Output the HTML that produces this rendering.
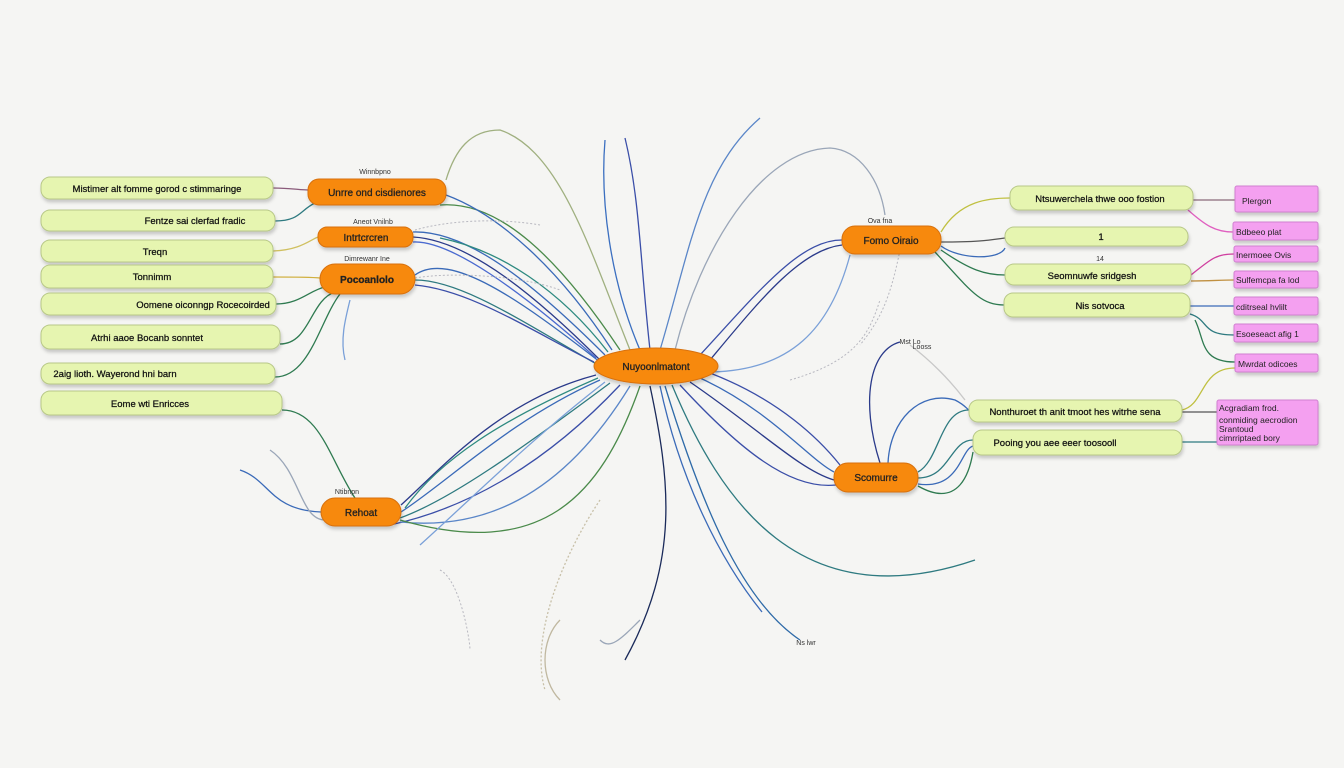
<!DOCTYPE html>
<html><head><meta charset="utf-8"><style>
html,body{margin:0;padding:0;background:#f5f5f3;}
svg{display:block}
text{font-family:"Liberation Sans",sans-serif;}
</style></head><body>
<svg width="1344" height="768" viewBox="0 0 1344 768" xmlns="http://www.w3.org/2000/svg">
<defs>
<filter id="sh" x="-10%" y="-20%" width="120%" height="160%"><feDropShadow dx="1" dy="3" stdDeviation="1.5" flood-color="#000" flood-opacity="0.18"/></filter>
</defs>
<rect width="1344" height="768" fill="#f5f5f3"/>
<g fill="none" stroke-width="1.3">
<path d="M640,350 C610,280 600,200 605,140" stroke="#3b6fc0"/>
<path d="M650,350 C640,260 640,200 625,138" stroke="#3a4ea8"/>
<path d="M660,350 C690,250 700,170 760,118" stroke="#5a86c8"/>
<path d="M675,350 C700,250 760,150 830,148 C860,150 880,180 885,215" stroke="#9aa6b8"/>
<path d="M700,355 C760,290 800,240 842,240" stroke="#3a4ea8"/>
<path d="M710,360 C760,300 800,250 842,245" stroke="#2a3a8a"/>
<path d="M712,372 C790,370 830,330 850,255" stroke="#7aa0d8"/>
<path d="M600,360 C540,300 470,240 413,237" stroke="#2a3a8a"/>
<path d="M605,355 C540,290 470,230 413,232" stroke="#3a6ab8"/>
<path d="M598,365 C520,320 460,280 415,280" stroke="#2e7a80"/>
<path d="M600,362 C520,300 450,250 415,275" stroke="#3a6ab8"/>
<path d="M596,358 C520,290 450,240 413,242" stroke="#4a6ad0"/>
<path d="M594,362 C530,330 470,290 415,285" stroke="#3a4ea8"/>
<path d="M608,352 C560,290 500,250 440,238" stroke="#2e8a80"/>
<path d="M620,350 C560,260 500,200 440,205" stroke="#4a8a4a"/>
<path d="M612,350 C560,270 500,215 446,195" stroke="#3a6ab8"/>
<path d="M630,350 C590,250 560,150 500,130 C470,130 455,150 446,180" stroke="#a0b080"/>
<path d="M596,375 C500,400 440,470 401,505" stroke="#2a3a8a"/>
<path d="M600,380 C510,420 450,480 401,512" stroke="#3a6ab8"/>
<path d="M610,383 C520,450 450,500 400,518" stroke="#2e7a80"/>
<path d="M620,385 C540,470 460,510 390,525" stroke="#3a4ea8"/>
<path d="M630,386 C560,500 480,530 400,522" stroke="#5a86c8"/>
<path d="M640,386 C600,500 540,560 400,520" stroke="#4a8a4a"/>
<path d="M598,378 C500,420 440,460 405,508" stroke="#2e8a80"/>
<path d="M605,382 C530,440 470,500 420,545" stroke="#7aa0d8"/>
<path d="M650,386 C670,480 680,560 625,660" stroke="#1a2a5a"/>
<path d="M660,386 C680,480 720,560 762,612" stroke="#3a6ab8"/>
<path d="M665,386 C700,500 740,600 800,640" stroke="#2e6aa8"/>
<path d="M672,385 C720,500 800,620 975,560" stroke="#2e7a80"/>
<path d="M690,382 C760,430 800,470 834,480" stroke="#2a3a8a"/>
<path d="M700,378 C770,410 810,460 834,472" stroke="#3a6ab8"/>
<path d="M710,373 C780,400 820,440 840,465" stroke="#3a4ea8"/>
<path d="M680,385 C740,450 790,490 836,485" stroke="#3a4ea8"/>
<path d="M560,620 C540,640 540,680 560,700" stroke="#c0b8a0"/>
<path d="M600,500 C560,560 530,640 545,690" stroke="#c8c0a8" stroke-dasharray="2,2"/>
<path d="M640,620 C620,640 610,650 600,640" stroke="#9aa6b8"/>
<path d="M273,188 C290,188 300,190 308,190" stroke="#8a5a7a"/>
<path d="M275,221 C300,221 300,210 315,203" stroke="#2e7a80"/>
<path d="M273,251 C300,250 310,240 318,237" stroke="#d0c060"/>
<path d="M273,277 C300,277 310,277 320,278" stroke="#d0b040"/>
<path d="M276,304 C300,304 310,290 325,287" stroke="#2e7a50"/>
<path d="M280,344 C310,344 310,300 335,292" stroke="#2e7a50"/>
<path d="M275,377 C310,377 320,320 340,294" stroke="#2e7a50"/>
<path d="M282,410 C320,410 330,460 355,498" stroke="#2e7a50"/>
<path d="M240,470 C270,480 270,510 321,512" stroke="#3a6ab8"/>
<path d="M270,450 C300,470 300,520 325,520" stroke="#9aa6b8"/>
<path d="M350,300 C345,320 340,340 345,360" stroke="#7aa0d8"/>
<path d="M941,232 C960,200 990,198 1010,198" stroke="#c0c040"/>
<path d="M941,242 C980,242 990,240 1005,238" stroke="#555"/>
<path d="M941,246 C960,260 1000,260 1005,248" stroke="#3a6ab8"/>
<path d="M941,250 C970,270 985,275 1005,275" stroke="#2e7a50"/>
<path d="M935,252 C970,290 980,305 1004,305" stroke="#2e7a50"/>
<path d="M1193,200 C1210,200 1220,200 1235,200" stroke="#8a6a7a"/>
<path d="M1188,210 C1205,225 1215,232 1233,232" stroke="#e060c0"/>
<path d="M1191,275 C1210,260 1215,254 1234,254" stroke="#d040a0"/>
<path d="M1191,281 C1210,281 1220,280 1234,280" stroke="#c09040"/>
<path d="M1190,306 C1210,306 1220,306 1234,306" stroke="#3a6ab8"/>
<path d="M1190,314 C1210,320 1200,335 1234,335" stroke="#2e7a80"/>
<path d="M1195,320 C1205,340 1200,362 1235,362" stroke="#2e7a50"/>
<path d="M1182,410 C1205,405 1200,368 1235,368" stroke="#c0c040"/>
<path d="M1182,412 C1200,412 1205,412 1217,412" stroke="#555"/>
<path d="M1182,442 C1200,442 1205,442 1217,442" stroke="#2e7a80"/>
<path d="M918,472 C940,460 940,410 969,410" stroke="#2e7a80"/>
<path d="M918,478 C950,478 950,440 973,440" stroke="#2e7a80"/>
<path d="M918,484 C960,490 960,450 973,446" stroke="#3a6ab8"/>
<path d="M918,486 C960,510 970,470 973,452" stroke="#2e7a50"/>
<path d="M880,463 C860,400 870,350 900,342" stroke="#2a3a8a"/>
<path d="M888,463 C890,420 920,390 955,400 C965,405 968,410 969,410" stroke="#3a6ab8"/>
<path d="M910,345 C930,360 950,380 965,400" stroke="#c8c8c8"/>
</g>
<g fill="none" stroke="#b8b8c0" stroke-width="1" stroke-dasharray="2,2">
<path d="M415,230 C450,220 500,218 540,225"/>
<path d="M415,278 C450,272 520,275 560,290"/>
<path d="M900,250 C890,300 880,320 860,345"/>
<path d="M440,570 C460,580 470,640 470,650"/>
<path d="M790,380 C860,360 870,330 880,300"/>
</g>
<g filter="url(#sh)" fill="#e6f5b0" stroke="#b8c888" stroke-width="1">
<rect x="41" y="177" width="232" height="22" rx="9"/>
<rect x="41" y="210" width="234" height="21" rx="9"/>
<rect x="41" y="240" width="232" height="22" rx="9"/>
<rect x="41" y="265" width="232" height="23" rx="9"/>
<rect x="41" y="293" width="235" height="22" rx="9"/>
<rect x="41" y="325" width="239" height="24" rx="9"/>
<rect x="41" y="363" width="234" height="21" rx="9"/>
<rect x="41" y="391" width="241" height="24" rx="9"/>
<rect x="1010" y="186" width="183" height="24" rx="9"/>
<rect x="1005" y="227" width="183" height="19" rx="9"/>
<rect x="1005" y="264" width="186" height="21" rx="9"/>
<rect x="1004" y="293" width="186" height="24" rx="9"/>
<rect x="969" y="400" width="213" height="22" rx="9"/>
<rect x="973" y="430" width="209" height="25" rx="9"/>
</g>
<g font-size="9.5" fill="#111" text-anchor="middle" stroke="#111" stroke-width="0.25">
<text x="157" y="192">Mistimer alt fomme gorod c stimmaringe</text>
<text x="195" y="224">Fentze sai clerfad fradic</text>
<text x="155" y="255">Treqn</text>
<text x="152" y="280">Tonnimm</text>
<text x="203" y="308">Oomene oiconngp Rocecoirded</text>
<text x="147" y="341">Atrhi aaoe Bocanb sonntet</text>
<text x="115" y="377">2aig lioth. Wayerond hni barn</text>
<text x="150" y="407">Eome wti Enricces</text>
<text x="1100" y="202">Ntsuwerchela thwe ooo fostion</text>
<text x="1101" y="240">1</text>
<text x="1092" y="279">Seomnuwfe sridgesh</text>
<text x="1100" y="309">Nis sotvoca</text>
<text x="1075" y="415">Nonthuroet th anit tmoot hes witrhe sena</text>
<text x="1055" y="446">Pooing you aee eeer toosooll</text>
</g>
<g filter="url(#sh)" fill="#f4a0f0" stroke="#d080d0" stroke-width="1">
<rect x="1235" y="186" width="83" height="26" rx="2"/>
<rect x="1233" y="222" width="85" height="18" rx="2"/>
<rect x="1234" y="246" width="84" height="16" rx="2"/>
<rect x="1234" y="271" width="84" height="17" rx="2"/>
<rect x="1234" y="297" width="84" height="18" rx="2"/>
<rect x="1234" y="324" width="84" height="18" rx="2"/>
<rect x="1235" y="354" width="83" height="18" rx="2"/>
<rect x="1217" y="400" width="101" height="45" rx="2"/>
</g>
<g font-size="8.5" fill="#222">
<text x="1242" y="204">Plergon</text>
<text x="1236" y="235">Bdbeeo plat</text>
<text x="1236" y="258">Inermoee Ovis</text>
<text x="1236" y="283">Sulfemcpa fa lod</text>
<text x="1236" y="310">cditrseal hvlilt</text>
<text x="1236" y="337">Esoeseact afig 1</text>
<text x="1238" y="367">Mwrdat odicoes</text>
<text x="1219" y="411">Acgradiam frod.</text>
<text x="1219" y="423">conmiding aecrodion</text>
<text x="1219" y="432">Srantoud</text>
<text x="1219" y="441">cimrriptaed bory</text>
</g>
<g filter="url(#sh)" fill="#f7890f" stroke="#d87008" stroke-width="1">
<rect x="308" y="179" width="138" height="26" rx="11"/>
<rect x="318" y="227" width="95" height="20" rx="9"/>
<rect x="320" y="264" width="95" height="30" rx="15"/>
<ellipse cx="656" cy="366" rx="62" ry="18"/>
<rect x="842" y="226" width="99" height="28" rx="13"/>
<rect x="834" y="463" width="84" height="29" rx="14"/>
<rect x="321" y="498" width="80" height="28" rx="14"/>
</g>
<g font-size="10" fill="#222" text-anchor="middle" stroke="#222" stroke-width="0.3">
<text x="377" y="196">Unrre ond cisdienores</text>
<text x="366" y="241">Intrtcrcren</text>
<text x="367" y="283" font-weight="bold">Pocoanlolo</text>
<text x="656" y="370">Nuyoonlmatont</text>
<text x="891" y="244">Fomo Oiraio</text>
<text x="876" y="481">Scomurre</text>
<text x="361" y="516">Rehoat</text>
</g>
<g font-size="7" fill="#333" text-anchor="middle">
<text x="375" y="174">Winnbpno</text>
<text x="373" y="224">Aneot Vnilnb</text>
<text x="367" y="261">Dimrewanr Ine</text>
<text x="880" y="223">Ova fna</text>
<text x="1100" y="261">14</text>
<text x="347" y="494">Ntibnpn</text>
<text x="910" y="344">Mst Lo</text>
<text x="922" y="349">Looss</text>
<text x="806" y="645">Ns lwr</text>
</g>
</svg>
</body></html>
